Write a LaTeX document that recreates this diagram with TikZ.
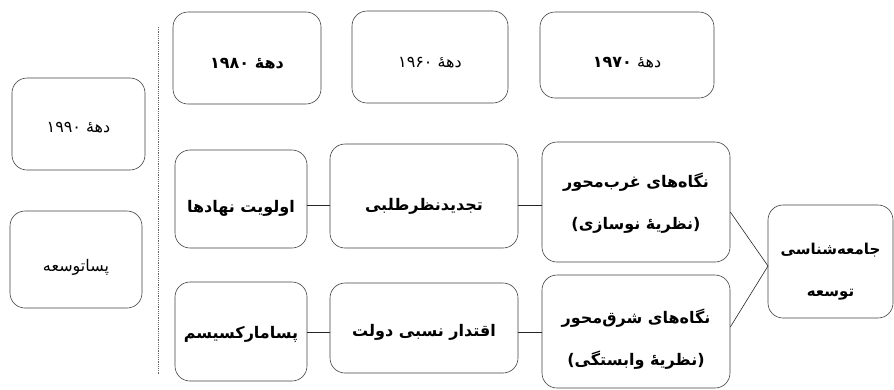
\documentclass[tikz,border=0pt]{standalone}
\usepackage{fontspec}
\TeXXeTstate=1
\newfontfamily\fa[Script=Arabic]{DejaVu Sans}
\newcommand{\hh}{ه^^^^0654}
\begin{document}
\begin{tikzpicture}[x=1pt,y=-1pt,
  box/.style={draw=black!75, line width=0.6pt, rounded corners=15pt, inner sep=0pt},
  tr/.style={align=center, inner sep=0pt, font=\fa\fontsize{16}{42}\selectfont},
  tb/.style={align=center, inner sep=0pt, font=\fa\bfseries\fontsize{16}{42}\selectfont},
  conn/.style={draw=black!85, line width=0.6pt},
  sep/.style={draw=black!60, line width=0.5pt, dash pattern=on 1.2pt off 1pt}]
\useasboundingbox (0,0) rectangle (894,389);
% boxes
\node[box, minimum width=133pt, minimum height=92pt] (d90) at (78.5,124) {};
\node[box, minimum width=132pt, minimum height=97pt] (post) at (76,259.5) {};
\node[box, minimum width=148pt, minimum height=92pt] (d80) at (247,58) {};
\node[box, minimum width=156pt, minimum height=92pt] (d60) at (430,57) {};
\node[box, minimum width=174pt, minimum height=86pt] (d70) at (627,55) {};
\node[box, minimum width=132pt, minimum height=98pt] (inst) at (241,199) {};
\node[box, minimum width=188pt, minimum height=104pt] (rev) at (424,196) {};
\node[box, minimum width=188pt, minimum height=120pt] (west) at (636,202) {};
\node[box, minimum width=132pt, minimum height=99pt] (pm) at (241,331.5) {};
\node[box, minimum width=188pt, minimum height=90pt] (state) at (424,328) {};
\node[box, minimum width=188pt, minimum height=113pt] (east) at (636,331.5) {};
\node[box, minimum width=125pt, minimum height=113pt] (soc) at (830.5,261.5) {};
% texts
\node[tr] (d90t) at ([yshift=-4pt]d90.center) {\beginR ده\hh{} ۱۹۹۰\endR};
\node[tr] (postt) at ([yshift=-8pt]post.center) {\beginR پساتوسعه\endR};
\node[tb] (d80t) at ([yshift=-6pt]d80.center) {\beginR ده\hh{} ۱۹۸۰\endR};
\node[tr] (d60t) at ([yshift=-6pt]d60.center) {\beginR ده\hh{} ۱۹۶۰\endR};
\node[tr] (d70t) at ([yshift=-8pt]d70.center) {\beginR ده\hh{} {\bfseries ۱۹۷۰}\endR};
\node[tb] (instt) at ([yshift=-9pt]inst.center) {\beginR اولویت نهادها\endR};
\node[tb] (revt) at ([yshift=-10pt]rev.center) {\beginR تجدیدنظرطلبی\endR};
\node[tb] (westt) at ([yshift=-1pt]west.center)
  {\beginR نگاه^^^^200cهای غرب^^^^200cمحور\endR\\\beginR (نظری\hh{} نوسازی)\endR};
\node[tb] (pmt) at ([yshift=-3pt]pm.center) {\beginR پسامارکسیسم\endR};
\node[tb] (statet) at ([yshift=-4pt]state.center) {\beginR اقتدار نسبی دولت\endR};
\node[tb] (eastt) at ([yshift=-8pt]east.center)
  {\beginR نگاه^^^^200cهای شرق^^^^200cمحور\endR\\\beginR (نظری\hh{} وابستگی)\endR};
\node[tb, font=\fa\bfseries\fontsize{15}{42}\selectfont] (soct) at ([yshift=-10pt]soc.center)
  {\beginR جامعه^^^^200cشناسی\endR\\\beginR توسعه\endR};
% separator
\coordinate (s1) at (158,27);
\coordinate (s2) at (158,374);
\draw[sep] (s1) -- (s2);
% connectors
\coordinate (r1) at (0,205);
\coordinate (r2) at (0,332);
\coordinate (wa) at (0,212);
\coordinate (ea) at (0,327);
\coordinate (j) at (768,266);
\draw[conn] (inst.east |- r1) -- (rev.west |- r1);
\draw[conn] (rev.east |- r1) -- (west.west |- r1);
\draw[conn] (pm.east |- r2) -- (state.west |- r2);
\draw[conn] (state.east |- r2) -- (east.west |- r2);
\draw[conn] (west.east |- wa) -- (j);
\draw[conn] (east.east |- ea) -- (j);
\end{tikzpicture}
\end{document}
